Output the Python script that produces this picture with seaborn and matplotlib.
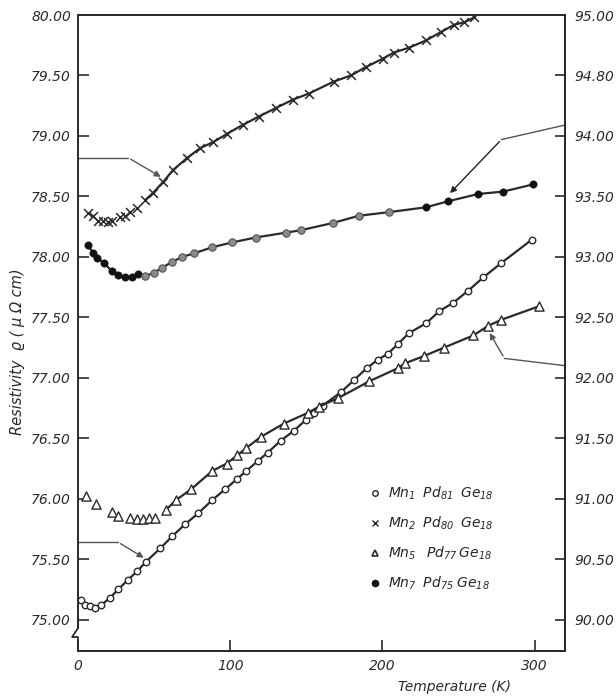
import numpy as np
import pandas as pd
import matplotlib.pyplot as plt
import seaborn as sns
from matplotlib.lines import Line2D

# Mn1 Pd81 Ge18 -- open circles, left axis
mn1_t = [2.0, 4.6, 7.9, 11.2, 15.2, 21.1, 26.4, 33.0, 38.9, 44.8, 54.1, 62.0, 70.5,
         79.1, 88.3, 96.9, 104.2, 110.7, 118.0, 124.6, 133.2, 141.7, 149.6, 154.9,
         160.8, 172.7, 181.3, 189.8, 197.1, 203.7, 210.3, 217.5, 228.7, 237.3, 246.5,
         256.4, 266.3, 278.2, 298.0]
mn1_r = [75.16, 75.12, 75.11, 75.10, 75.12, 75.18, 75.25, 75.33, 75.40, 75.48, 75.59,
         75.69, 75.79, 75.88, 75.99, 76.08, 76.16, 76.23, 76.31, 76.38, 76.48, 76.56,
         76.65, 76.71, 76.77, 76.88, 76.98, 77.08, 77.15, 77.20, 77.28, 77.37, 77.45,
         77.55, 77.62, 77.72, 77.83, 77.95, 78.14]

# Mn2 Pd80 Ge18 -- crosses, left axis
mn2_t = [6.6, 9.9, 13.2, 16.5, 19.8, 22.4, 27.7, 31.0, 34.3, 38.9, 44.2, 49.4, 56.0,
         62.6, 71.9, 80.4, 89.0, 98.2, 108.1, 118.7, 129.9, 141.1, 151.6, 168.1, 179.3,
         189.2, 200.4, 207.6, 217.5, 228.7, 238.6, 247.2, 253.8, 260.4]
mn2_r = [78.36, 78.34, 78.30, 78.30, 78.29, 78.30, 78.33, 78.34, 78.37, 78.40, 78.47,
         78.53, 78.62, 78.72, 78.82, 78.90, 78.95, 79.02, 79.09, 79.16, 79.23, 79.30,
         79.35, 79.45, 79.50, 79.57, 79.64, 79.69, 79.73, 79.79, 79.86, 79.92, 79.94,
         79.98]

# Mn5 Pd77 Ge18 -- triangles, right axis
mn5_t = [5.3, 11.9, 22.4, 26.4, 34.3, 38.9, 42.8, 46.8, 50.8, 58.0, 64.6, 74.5, 88.3,
         97.6, 104.8, 110.7, 120.0, 135.1, 151.0, 158.2, 170.7, 191.2, 210.3, 214.9,
         227.4, 240.6, 259.7, 269.6, 278.2, 302.6]
mn5_r = [91.02, 90.96, 90.89, 90.86, 90.84, 90.83, 90.83, 90.84, 90.84, 90.91, 90.99,
         91.08, 91.23, 91.29, 91.36, 91.42, 91.51, 91.62, 91.71, 91.76, 91.83, 91.97,
         92.08, 92.12, 92.18, 92.25, 92.35, 92.43, 92.48, 92.59]

# Mn7 Pd75 Ge18 -- filled circles, right axis
mn7_t = [6.6, 9.9, 12.5, 17.1, 22.4, 26.4, 31.0, 35.6, 39.6, 44.2, 50.1, 55.4, 62.0,
         68.6, 76.5, 88.3, 101.5, 116.7, 136.5, 146.3, 167.4, 184.6, 204.4, 228.7,
         243.2, 263.0, 279.5, 299.3]
mn7_r = [93.10, 93.03, 92.99, 92.95, 92.88, 92.85, 92.83, 92.83, 92.86, 92.84, 92.87,
         92.91, 92.96, 93.00, 93.03, 93.08, 93.12, 93.16, 93.20, 93.22, 93.28, 93.34,
         93.37, 93.41, 93.46, 93.52, 93.54, 93.60]

left_ticks = [75.00, 75.50, 76.00, 76.50, 77.00, 77.50, 78.00, 78.50, 79.00, 79.50, 80.00]
right_ticks = [90.00, 90.50, 91.00, 91.50, 92.00, 92.50, 93.00, 93.50, 94.00, 94.50, 95.00]
right_labels = ["90.00", "90.50", "91.00", "91.50", "92.00", "92.50", "93.00", "93.50",
                "94.00", "94.80", "95.00"]
x_ticks = [0, 100, 200, 300]
labels = [r"$Mn_1\;\; Pd_{81}\;\; Ge_{18}$", r"$Mn_2\;\; Pd_{80}\;\; Ge_{18}$",
          r"$Mn_5\;\;\; Pd_{77}\, Ge_{18}$", r"$Mn_7\;\; Pd_{75}\; Ge_{18}$"]

sns.set_style("ticks")
plt.rcParams["font.family"] = ["DejaVu Sans"]
plt.rcParams["font.style"] = "italic"
plt.rcParams["mathtext.fontset"] = "dejavusans"
plt.rcParams["mathtext.default"] = "it"

ink = "#2a2a2a"
fig = plt.figure(figsize=(6.16, 6.96), dpi=100)
ax = fig.add_axes([0.1266, 0.0646, 0.7906, 0.9138])
ax2 = ax.twinx()

df1 = pd.DataFrame({"t": mn1_t, "r": mn1_r})
df2 = pd.DataFrame({"t": mn2_t, "r": mn2_r})
df5 = pd.DataFrame({"t": mn5_t, "r": mn5_r})
df7 = pd.DataFrame({"t": mn7_t, "r": mn7_r})

# connecting lines (low-T clusters of Mn2 / Mn5 are drawn without a line)
lkw = dict(x="t", y="r", color=ink, lw=1.6, estimator=None, sort=False, legend=False)
sns.lineplot(data=df1[df1.t >= 11], ax=ax, **lkw)
sns.lineplot(data=df2[df2.t >= 44], ax=ax, **lkw)
sns.lineplot(data=df5[df5.t >= 55], ax=ax2, **lkw)
sns.lineplot(data=df7, ax=ax2, **lkw)

sns.scatterplot(data=df1, x="t", y="r", ax=ax, marker="o", s=22, facecolor="white",
                edgecolor=ink, linewidth=1.0, zorder=3)
sns.scatterplot(data=df2, x="t", y="r", ax=ax, marker="x", s=40, color=ink,
                linewidth=1.1, zorder=3)
sns.scatterplot(data=df5, x="t", y="r", ax=ax2, marker="^", s=44, facecolor="white",
                edgecolor=ink, linewidth=1.0, zorder=3)
mid = (df7.t > 42) & (df7.t < 220)
sns.scatterplot(data=df7[~mid], x="t", y="r", ax=ax2, marker="o", s=28, color="#111111",
                edgecolor="#111111", zorder=3)
sns.scatterplot(data=df7[mid], x="t", y="r", ax=ax2, marker="o", s=28, color="#8a8a8a",
                edgecolor="#555555", linewidth=0.8, zorder=3)

ax.set_xlim(0, 320)
ax.set_ylim(74.74, 80.0)
ax2.set_ylim(89.74, 95.0)
ax.set_xticks(x_ticks)
ax.set_yticks(left_ticks)
ax.set_yticklabels([f"{v:.2f}" for v in left_ticks])
ax2.set_yticks(right_ticks)
ax2.set_yticklabels(right_labels)
ax.tick_params(axis="both", direction="in", length=8, width=1.2, labelsize=10, colors=ink)
ax.tick_params(axis="y", pad=5)
ax.tick_params(axis="x", pad=6)
ax2.tick_params(axis="y", direction="in", length=7, width=1.2, labelsize=10, pad=7, colors=ink)
for a in (ax, ax2):
    for s in a.spines.values():
        s.set_visible(True)
        s.set_linewidth(1.4)
        s.set_color(ink)
ax2.spines["left"].set_visible(False)

ax.set_xlabel("Temperature (K)", fontsize=10, color=ink)
ax.xaxis.set_label_coords(0.774, -0.046)
ax.set_ylabel("Resistivity  \u03f1 ( \u03bc \u03a9 cm)", fontsize=10.5, color=ink)
ax.yaxis.set_label_coords(-0.108, 0.47)
ax2.set_ylabel("")

# pointer lines showing which axis each curve belongs to
pkw = dict(color="#555555", lw=1.0)
ax.plot([0, 33.0], [78.82, 78.82], **pkw)
ax.annotate("", xy=(mn2_t[12], mn2_r[12] + 0.03), xytext=(33.0, 78.82),
            arrowprops=dict(arrowstyle="-|>", color="#555555", lw=1.0, mutation_scale=9))
ax.plot([0, 26.4], [75.64, 75.64], **pkw)
ax.annotate("", xy=(mn1_t[9], mn1_r[9] + 0.02), xytext=(26.4, 75.64),
            arrowprops=dict(arrowstyle="-|>", color="#555555", lw=1.0, mutation_scale=9))
ax2.plot([320, 278.2], [94.09, 93.97], **pkw)
ax2.annotate("", xy=(mn7_t[24], mn7_r[24] + 0.05), xytext=(278.2, 93.97),
             arrowprops=dict(arrowstyle="-|>", color="#222222", lw=1.0, mutation_scale=9))
ax2.plot([320, 280.2], [92.10, 92.16], **pkw)
ax2.annotate("", xy=(mn5_t[27], mn5_r[27] - 0.04), xytext=(280.2, 92.16),
             arrowprops=dict(arrowstyle="-|>", color="#555555", lw=1.0, mutation_scale=9))

# axis break mark on the left spine
ax.spines["left"].set_bounds(74.74 + 0.036 * 5.26, 80.0)
ax.plot([0, 0, -0.012, 0.0, 0.0], [0.05, 0.036, 0.022, 0.022, 0.0], transform=ax.transAxes,
        color=ink, lw=1.3, clip_on=False, zorder=6)

handles = [
    Line2D([], [], ls="", marker="o", ms=4, mfc="white", mec=ink, mew=1.0),
    Line2D([], [], ls="", marker="x", ms=5, mec=ink, mew=1.0),
    Line2D([], [], ls="", marker="^", ms=5, mfc="white", mec=ink, mew=1.2),
    Line2D([], [], ls="", marker="o", ms=4.5, mfc="#111111", mec="#111111"),
]
ax.legend(handles, labels, loc="upper left", bbox_to_anchor=(0.59, 0.27),
          frameon=False, fontsize=10, handlelength=0.6, handletextpad=0.6,
          labelspacing=0.9, borderaxespad=0)

fig.savefig("out.png", dpi=100)
